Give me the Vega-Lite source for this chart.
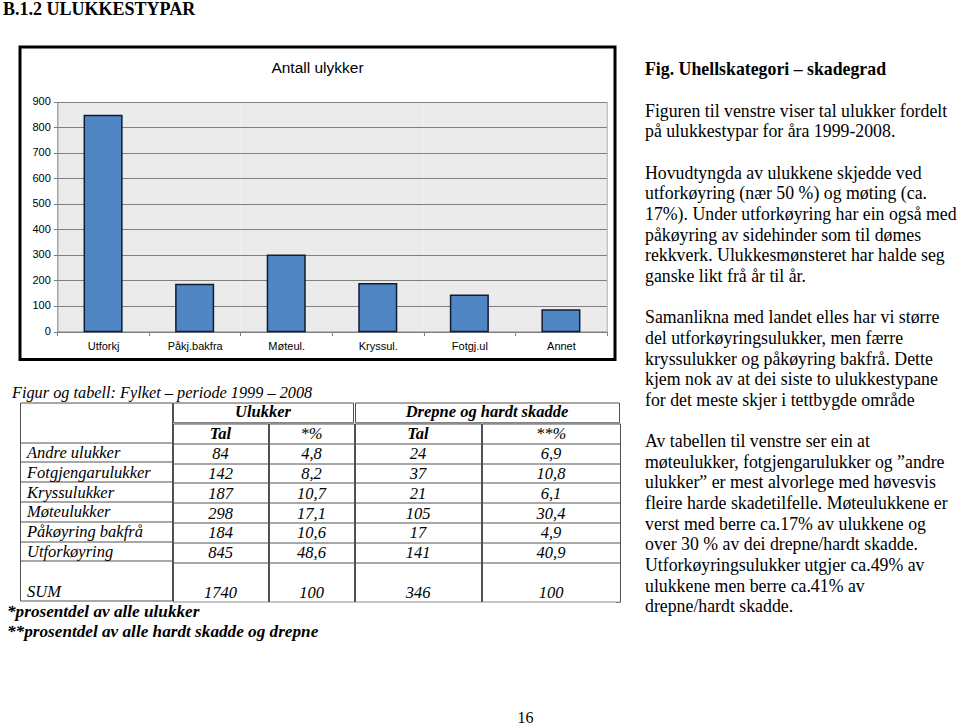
{
  "$schema": "https://vega.github.io/schema/vega-lite/v6.json",
  "background": "white",
  "padding": {"left": 3, "top": 0, "right": 0, "bottom": 0},
  "autosize": {"type": "pad"},
  "title": {"text": "B.1.2 ULUKKESTYPAR", "anchor": "start", "frame": "group", "dx": -17, "offset": 27, "font": "Liberation Serif", "fontSize": 18, "fontWeight": "bold", "color": "black"},
  "spacing": 24,
  "datasets": {
    "bars": [
      {"kategori": "Utforkj", "antall": 845},
      {"kategori": "Påkj.bakfra", "antall": 184},
      {"kategori": "Møteul.", "antall": 298},
      {"kategori": "Kryssul.", "antall": 187},
      {"kategori": "Fotgj.ul", "antall": 142},
      {"kategori": "Annet", "antall": 84}
    ],
    "tabell": [
      {"type": "Andre ulukker", "tal": 84, "pst": 4.8, "dtal": 24, "dpst": 6.9},
      {"type": "Fotgjengarulukker", "tal": 142, "pst": 8.2, "dtal": 37, "dpst": 10.8},
      {"type": "Kryssulukker", "tal": 187, "pst": 10.7, "dtal": 21, "dpst": 6.1},
      {"type": "Møteulukker", "tal": 298, "pst": 17.1, "dtal": 105, "dpst": 30.4},
      {"type": "Påkøyring bakfrå", "tal": 184, "pst": 10.6, "dtal": 17, "dpst": 4.9},
      {"type": "Utforkøyring", "tal": 845, "pst": 48.6, "dtal": 141, "dpst": 40.9},
      {"type": "SUM", "tal": 1740, "pst": 100, "dtal": 346, "dpst": 100}
    ],
    "tekst": [
      {"linje": 0, "tekst": "Fig. Uhellskategori – skadegrad"},
      {"linje": 2, "tekst": "Figuren til venstre viser tal ulukker fordelt"},
      {"linje": 3, "tekst": "på ulukkestypar for åra 1999-2008."},
      {"linje": 5, "tekst": "Hovudtyngda av ulukkene skjedde ved"},
      {"linje": 6, "tekst": "utforkøyring (nær 50 %) og møting (ca."},
      {"linje": 7, "tekst": "17%). Under utforkøyring har ein også med"},
      {"linje": 8, "tekst": "påkøyring av sidehinder som til dømes"},
      {"linje": 9, "tekst": "rekkverk. Ulukkesmønsteret har halde seg"},
      {"linje": 10, "tekst": "ganske likt frå år til år."},
      {"linje": 12, "tekst": "Samanlikna med landet elles har vi større"},
      {"linje": 13, "tekst": "del utforkøyringsulukker, men færre"},
      {"linje": 14, "tekst": "kryssulukker og påkøyring bakfrå. Dette"},
      {"linje": 15, "tekst": "kjem nok av at dei siste to ulukkestypane"},
      {"linje": 16, "tekst": "for det meste skjer i tettbygde område"},
      {"linje": 18, "tekst": "Av tabellen til venstre ser ein at"},
      {"linje": 19, "tekst": "møteulukker, fotgjengarulukker og ”andre"},
      {"linje": 20, "tekst": "ulukker” er mest alvorlege med høvesvis"},
      {"linje": 21, "tekst": "fleire harde skadetilfelle.  Møteulukkene er"},
      {"linje": 22, "tekst": "verst med berre ca.17% av ulukkene og"},
      {"linje": 23, "tekst": "over 30 % av dei drepne/hardt skadde."},
      {"linje": 24, "tekst": "Utforkøyringsulukker utgjer ca.49% av"},
      {"linje": 25, "tekst": "ulukkene men berre ca.41% av"},
      {"linje": 26, "tekst": "drepne/hardt skadde."}
    ],
    "fotnotar": [
      {"linjer": ["*prosentdel av alle ulukker", "**prosentdel av alle hardt skadde og drepne"]}
    ]
  },
  "hconcat": [
    {
      "spacing": 23.5,
      "vconcat": [
        {
          "width": 595,
          "height": 312.5,
          "view": {"stroke": "black", "strokeWidth": 3, "fill": "white"},
          "title": {"text": "Antall ulykker", "anchor": "middle", "frame": "group", "offset": -29.5, "baseline": "top", "font": "Liberation Sans", "fontSize": 15.5, "fontWeight": "normal", "color": "black"},
          "data": {"name": "bars"},
          "resolve": {"axis": {"x": "independent", "y": "independent"}},
          "layer": [
            {
              "mark": {"type": "text", "text": ""},
              "encoding": {
                "x": {"field": "kategori", "type": "nominal", "sort": null,
                  "scale": {"type": "band", "range": [37.3, 586.7], "paddingInner": 0, "paddingOuter": 0},
                  "axis": {"orient": "top", "grid": true, "tickBand": "center", "gridColor": "#ebebeb", "gridWidth": 92, "gridOpacity": 1, "labels": false, "ticks": false, "domain": false, "title": null}},
                "y": {"field": "antall", "type": "quantitative",
                  "scale": {"domain": [0, 900], "range": [284.5, 54.5], "nice": false},
                  "axis": {"orient": "right", "offset": -8.3, "grid": false, "labels": false, "ticks": false, "domain": true, "domainColor": "#a8a8a8", "title": null}}
              }
            },
            {
              "mark": {"type": "bar", "width": {"band": 0.41}, "fill": "#4f86c3", "stroke": "#101c30", "strokeWidth": 1.5},
              "encoding": {
                "x": {"field": "kategori", "type": "nominal", "sort": null,
                  "scale": {"type": "band", "range": [37.3, 586.7], "paddingInner": 0, "paddingOuter": 0},
                  "axis": {"orient": "bottom", "offset": -28, "tickBand": "extent", "grid": false, "labelAngle": 0, "domainColor": "#808080", "tickColor": "#808080", "tickSize": 4, "labelFont": "Liberation Sans", "labelFontSize": 11, "labelColor": "black", "labelPadding": 5, "title": null}},
                "y": {"field": "antall", "type": "quantitative",
                  "scale": {"domain": [0, 900], "range": [284.5, 54.5], "nice": false},
                  "axis": {"orient": "left", "offset": -37.3, "grid": true, "gridColor": "#808080", "gridOpacity": 1, "tickCount": 10, "domainColor": "#808080", "tickColor": "#808080", "tickSize": 4, "labelFont": "Liberation Sans", "labelFontSize": 11, "labelColor": "black", "labelPadding": 3, "title": null}}
              }
            }
          ]
        },
        {
          "spacing": -1.5,
          "title": {"text": "Figur og tabell: Fylket – periode 1999 – 2008", "anchor": "start", "frame": "group", "dx": -8, "offset": 1, "font": "Liberation Serif", "fontSize": 16.3, "fontStyle": "italic", "fontWeight": "normal", "color": "black"},
          "vconcat": [
            {
              "spacing": -1,
              "hconcat": [
                {
                  "width": 152,
                  "height": 198,
                  "view": {"stroke": "#505050", "strokeWidth": 1},
                  "data": {"name": "tabell"},
                  "mark": {"type": "text", "align": "left", "baseline": "middle", "dx": 7, "dy": 1, "font": "Liberation Serif", "fontSize": 16.5, "fontStyle": "italic", "color": "black"},
                  "encoding": {
                    "x": {"datum": 0, "type": "quantitative", "scale": {"domain": [0, 1]}, "axis": null},
                    "y": {"field": "type", "type": "nominal",
                      "scale": {"domain": ["h1", "h2", "Andre ulukker", "Fotgjengarulukker", "Kryssulukker", "Møteulukker", "Påkøyring bakfrå", "Utforkøyring", "blank", "SUM"], "paddingInner": 0, "paddingOuter": 0},
                      "axis": {"grid": true, "values": ["Andre ulukker", "Fotgjengarulukker", "Kryssulukker", "Møteulukker", "Påkøyring bakfrå", "Utforkøyring"], "tickBand": "extent", "labels": false, "ticks": false, "domain": false, "title": null, "gridColor": "#505050", "gridOpacity": 1, "minExtent": 0, "maxExtent": 0}},
                    "text": {"field": "type"}
                  }
                },
                {
                  "spacing": -1,
                  "vconcat": [
                    {
                      "width": 180,
                      "height": 19.8,
                      "view": {"stroke": "#505050", "strokeWidth": 1},
                      "data": {"values": [{"overskrift": "Ulukker"}]},
                      "mark": {"type": "text", "baseline": "middle", "font": "Liberation Serif", "fontSize": 16.5, "fontStyle": "italic", "fontWeight": "bold", "color": "black"},
                      "encoding": {"text": {"field": "overskrift"}}
                    },
                    {
                      "spacing": -1,
                      "hconcat": [
                        {
                          "width": 95,
                          "height": 178.2,
                          "view": {"stroke": "#505050", "strokeWidth": 1},
                          "layer": [
                            {
                              "data": {"values": [{"kolonne": "Tal"}]},
                              "mark": {"type": "text", "baseline": "middle", "dy": 1, "font": "Liberation Serif", "fontSize": 16.5, "fontStyle": "italic", "fontWeight": "bold", "color": "black"},
                              "encoding": {"y": {"datum": "h2", "type": "nominal"}, "text": {"field": "kolonne"}}
                            },
                            {
                              "data": {"name": "tabell"},
                              "mark": {"type": "text", "baseline": "middle", "dy": 1, "font": "Liberation Serif", "fontSize": 16.5, "fontStyle": "italic", "color": "black"},
                              "encoding": {
                                "y": {"field": "type", "type": "nominal",
                                  "scale": {"domain": ["h2", "Andre ulukker", "Fotgjengarulukker", "Kryssulukker", "Møteulukker", "Påkøyring bakfrå", "Utforkøyring", "blank", "SUM"], "paddingInner": 0, "paddingOuter": 0},
                                  "axis": {"grid": true, "values": ["Andre ulukker", "Fotgjengarulukker", "Kryssulukker", "Møteulukker", "Påkøyring bakfrå", "Utforkøyring"], "tickBand": "extent", "labels": false, "ticks": false, "domain": false, "title": null, "gridColor": "#505050", "gridOpacity": 1, "minExtent": 0, "maxExtent": 0}},
                                "text": {"field": "tal", "type": "quantitative", "format": "d"}
                              }
                            }
                          ]
                        },
                        {
                          "width": 85,
                          "height": 178.2,
                          "view": {"stroke": "#505050", "strokeWidth": 1},
                          "layer": [
                            {
                              "data": {"values": [{"kolonne": "*%"}]},
                              "mark": {"type": "text", "baseline": "middle", "dy": 1, "font": "Liberation Serif", "fontSize": 16.5, "fontStyle": "italic", "fontWeight": "normal", "color": "black"},
                              "encoding": {"y": {"datum": "h2", "type": "nominal"}, "text": {"field": "kolonne"}}
                            },
                            {
                              "data": {"name": "tabell"},
                              "mark": {"type": "text", "baseline": "middle", "dy": 1, "font": "Liberation Serif", "fontSize": 16.5, "fontStyle": "italic", "color": "black"},
                              "encoding": {
                                "y": {"field": "type", "type": "nominal",
                                  "scale": {"domain": ["h2", "Andre ulukker", "Fotgjengarulukker", "Kryssulukker", "Møteulukker", "Påkøyring bakfrå", "Utforkøyring", "blank", "SUM"], "paddingInner": 0, "paddingOuter": 0},
                                  "axis": {"grid": true, "values": ["Andre ulukker", "Fotgjengarulukker", "Kryssulukker", "Møteulukker", "Påkøyring bakfrå", "Utforkøyring"], "tickBand": "extent", "labels": false, "ticks": false, "domain": false, "title": null, "gridColor": "#505050", "gridOpacity": 1, "minExtent": 0, "maxExtent": 0}},
                                "text": {"field": "pst", "type": "quantitative", "format": ".1~f"}
                              }
                            }
                          ]
                        }
                      ]
                    }
                  ]
                },
                {
                  "spacing": -1,
                  "vconcat": [
                    {
                      "width": 264,
                      "height": 19.8,
                      "view": {"stroke": "#505050", "strokeWidth": 1},
                      "data": {"values": [{"overskrift": "Drepne og hardt skadde"}]},
                      "mark": {"type": "text", "baseline": "middle", "font": "Liberation Serif", "fontSize": 16.5, "fontStyle": "italic", "fontWeight": "bold", "color": "black"},
                      "encoding": {"text": {"field": "overskrift"}}
                    },
                    {
                      "spacing": -1,
                      "hconcat": [
                        {
                          "width": 126,
                          "height": 178.2,
                          "view": {"stroke": "#505050", "strokeWidth": 1},
                          "layer": [
                            {
                              "data": {"values": [{"kolonne": "Tal"}]},
                              "mark": {"type": "text", "baseline": "middle", "dy": 1, "font": "Liberation Serif", "fontSize": 16.5, "fontStyle": "italic", "fontWeight": "bold", "color": "black"},
                              "encoding": {"y": {"datum": "h2", "type": "nominal"}, "text": {"field": "kolonne"}}
                            },
                            {
                              "data": {"name": "tabell"},
                              "mark": {"type": "text", "baseline": "middle", "dy": 1, "font": "Liberation Serif", "fontSize": 16.5, "fontStyle": "italic", "color": "black"},
                              "encoding": {
                                "y": {"field": "type", "type": "nominal",
                                  "scale": {"domain": ["h2", "Andre ulukker", "Fotgjengarulukker", "Kryssulukker", "Møteulukker", "Påkøyring bakfrå", "Utforkøyring", "blank", "SUM"], "paddingInner": 0, "paddingOuter": 0},
                                  "axis": {"grid": true, "values": ["Andre ulukker", "Fotgjengarulukker", "Kryssulukker", "Møteulukker", "Påkøyring bakfrå", "Utforkøyring"], "tickBand": "extent", "labels": false, "ticks": false, "domain": false, "title": null, "gridColor": "#505050", "gridOpacity": 1, "minExtent": 0, "maxExtent": 0}},
                                "text": {"field": "dtal", "type": "quantitative", "format": "d"}
                              }
                            }
                          ]
                        },
                        {
                          "width": 138,
                          "height": 178.2,
                          "view": {"stroke": "#505050", "strokeWidth": 1},
                          "layer": [
                            {
                              "data": {"values": [{"kolonne": "**%"}]},
                              "mark": {"type": "text", "baseline": "middle", "dy": 1, "font": "Liberation Serif", "fontSize": 16.5, "fontStyle": "italic", "fontWeight": "normal", "color": "black"},
                              "encoding": {"y": {"datum": "h2", "type": "nominal"}, "text": {"field": "kolonne"}}
                            },
                            {
                              "data": {"name": "tabell"},
                              "mark": {"type": "text", "baseline": "middle", "dy": 1, "font": "Liberation Serif", "fontSize": 16.5, "fontStyle": "italic", "color": "black"},
                              "encoding": {
                                "y": {"field": "type", "type": "nominal",
                                  "scale": {"domain": ["h2", "Andre ulukker", "Fotgjengarulukker", "Kryssulukker", "Møteulukker", "Påkøyring bakfrå", "Utforkøyring", "blank", "SUM"], "paddingInner": 0, "paddingOuter": 0},
                                  "axis": {"grid": true, "values": ["Andre ulukker", "Fotgjengarulukker", "Kryssulukker", "Møteulukker", "Påkøyring bakfrå", "Utforkøyring"], "tickBand": "extent", "labels": false, "ticks": false, "domain": false, "title": null, "gridColor": "#505050", "gridOpacity": 1, "minExtent": 0, "maxExtent": 0}},
                                "text": {"field": "dpst", "type": "quantitative", "format": ".1~f"}
                              }
                            }
                          ]
                        }
                      ]
                    }
                  ]
                }
              ]
            },
            {
              "width": 596,
              "height": 125,
              "view": {"fill": "white", "stroke": null},
              "encoding": {
                "x": {"datum": 0, "type": "quantitative", "scale": {"domain": [0, 1]}, "axis": null}
              },
              "layer": [
                {
                  "data": {"name": "fotnotar"},
                  "mark": {"type": "text", "align": "left", "baseline": "top", "lineHeight": 20, "dx": -13, "font": "Liberation Serif", "fontSize": 17.2, "fontStyle": "italic", "fontWeight": "bold", "color": "black"},
                  "encoding": {
                    "y": {"datum": -0.58, "type": "quantitative", "scale": {"domain": [-0.611, 6.333], "reverse": true, "nice": false, "zero": false}, "axis": null},
                    "text": {"field": "linjer"}
                  }
                },
                {
                  "data": {"values": [{"side": "16"}]},
                  "mark": {"type": "text", "align": "center", "baseline": "middle", "font": "Liberation Serif", "fontSize": 16, "color": "black"},
                  "encoding": {
                    "x": {"datum": 0.848, "type": "quantitative"},
                    "y": {"datum": 5.833, "type": "quantitative"},
                    "text": {"field": "side"}
                  }
                }
              ]
            }
          ]
        }
      ]
    },
    {
      "width": 315,
      "height": 560.4,
      "data": {"name": "tekst"},
      "encoding": {
        "x": {"datum": 0, "type": "quantitative", "scale": {"domain": [0, 1]}, "axis": null},
        "y": {"field": "linje", "type": "quantitative", "scale": {"domain": [-1.138, 26], "reverse": true, "nice": false, "zero": false}, "axis": null},
        "text": {"field": "tekst"}
      },
      "layer": [
        {"transform": [{"filter": "datum.linje > 0"}], "mark": {"type": "text", "align": "left", "baseline": "middle", "font": "Liberation Serif", "fontSize": 17.8, "color": "black"}},
        {"transform": [{"filter": "datum.linje == 0"}], "mark": {"type": "text", "align": "left", "baseline": "middle", "font": "Liberation Serif", "fontSize": 17.8, "fontWeight": "bold", "color": "black"}}
      ]
    }
  ],
  "config": {
    "view": {"stroke": null},
    "concat": {"spacing": 0},
    "locale": {"number": {"decimal": ",", "thousands": " ", "grouping": [3], "currency": ["", " kr"]}}
  }
}
